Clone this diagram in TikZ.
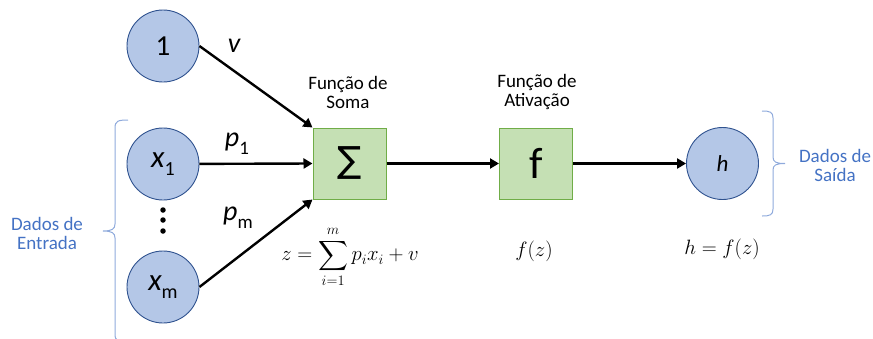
\documentclass[tikz,border=0pt]{standalone}
\usepackage{amsmath}
\usepackage{fontspec}
\setmainfont{Carlito}
\newfontfamily\symfont{DejaVu Sans}
\usetikzlibrary{arrows.meta}
\definecolor{cfill}{HTML}{B4C7E7}
\definecolor{cdraw}{HTML}{2F528F}
\definecolor{bfill}{HTML}{C5E0B4}
\definecolor{bdraw}{HTML}{70AD47}
\definecolor{tblue}{HTML}{4472C4}
\definecolor{brblue}{HTML}{8FAADC}
\newcommand{\fsz}[1]{\fontsize{#1}{#1}\selectfont}
\begin{document}
\begin{tikzpicture}[x=1pt,y=-1pt,
  neuron/.style={circle,fill=cfill,draw=cdraw,line width=0.9pt,minimum size=72pt,inner sep=0pt},
  funcbox/.style={rectangle,fill=bfill,draw=bdraw,line width=1pt,minimum width=73pt,minimum height=71pt,inner sep=0pt},
  conn/.style={line width=2.4pt,-{Triangle[length=9pt,width=10pt]}},
  caption/.style={align=center,font=\fsz{19}},
  bluetxt/.style={align=center,font=\fsz{19},text=tblue},
  wlabel/.style={font=\fsz{28}},
  brace/.style={draw=brblue,line width=1pt},
  dotn/.style={circle,fill=black,minimum size=5.5pt,inner sep=0pt}]
\useasboundingbox (0,0) rectangle (873,338);

\node[neuron] (one) at (163,46) {\fsz{29}1};
\node[neuron] (x1) at (163,164) {\fsz{31}\itshape x\raisebox{-0.28em}{\fsz{20}\upshape 1}};
\node[neuron] (xm) at (163,287) {\fsz{31}\itshape x\raisebox{-0.28em}{\fsz{20}\upshape m}};
\node[dotn] (d1) at (163,210) {};
\node[dotn] (d2) at (163,220) {};
\node[dotn] (d3) at (163,231) {};

\node[funcbox] (sum) at (349.5,163.5) {\fsz{36}\symfont ∑};
\node[funcbox] (act) at (536,163.5) {\fsz{44}f};
\node[neuron] (h) at (722.5,163.5) {\fsz{23}\itshape h};

\node[wlabel] (lv) at (234,46) {\itshape v};
\node[wlabel] (lp1) at (237,144) {\itshape p\raisebox{-0.28em}{\fsz{19}\upshape 1}};
\node[wlabel] (lpm) at (238,218) {\itshape p\raisebox{-0.28em}{\fsz{19}\upshape m}};

\node[caption] (csoma) at (348,92) {Função de\\Soma};
\node[caption] (cativ) at (537,92) {Função de\\Ativação};

\node[bluetxt] (din) at (47,233) {Dados de\\Entrada};
\node[bluetxt] (dout) at (835,165) {Dados de\\Saída};

\node (fz) at (350,257) {\fsz{21}$\displaystyle z=\sum_{i=1}^{m} p_i x_i + v$};
\node (ff) at (534,251) {\fsz{20}$f(z)$};
\node (fh) at (722,249) {\fsz{20}$h=f(z)$};

\draw[conn] (one.east) -- (sum.north west);
\draw[conn] (x1) -- (sum.west);
\draw[conn] (xm.east) -- (sum.south west);
\draw[conn] (sum) -- (act);
\draw[conn] (act) -- (h);

\draw[brace] (128,120) .. controls (118,120) and (115,121) .. (115,128) -- (115,224)
  .. controls (115,229) and (112,231) .. (103,231)
  .. controls (112,231) and (115,233) .. (115,238) -- (115,334)
  .. controls (115,341) and (118,342) .. (128,342);
\draw[brace] (762,111) .. controls (770,111) and (773,112) .. (773,118) -- (773,157)
  .. controls (773,162) and (776,163.5) .. (785,163.5)
  .. controls (776,163.5) and (773,165) .. (773,170) -- (773,209)
  .. controls (773,215) and (770,216) .. (762,216);
\end{tikzpicture}
\end{document}
